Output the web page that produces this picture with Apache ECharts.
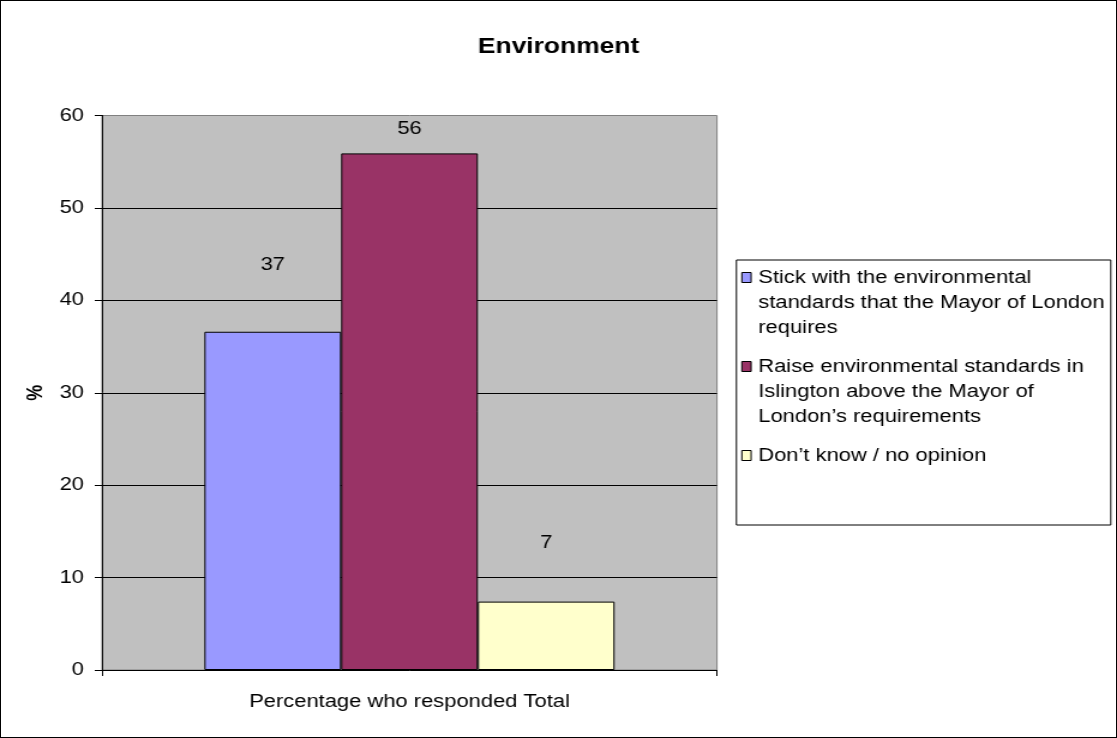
<!DOCTYPE html>
<html>
<head>
<meta charset="utf-8">
<title>Environment</title>
<script src="https://cdn.jsdelivr.net/npm/echarts@6/dist/echarts.min.js"></script>
<style>
  html, body { margin: 0; padding: 0; background: #fff; overflow: hidden; }
  #frame { position: relative; width: 1117px; height: 738px; overflow: hidden; }
  /* the chart is laid out on a narrower canvas and widened, giving the broad lettering of the sheet export */
  #chart { position: absolute; left: 0; top: 0; width: 931px; height: 738px;
           transform-origin: 0 0; transform: scaleX(1.19979); }
  #border { position: absolute; left: 0; top: 0; width: 1117px; height: 738px;
            box-sizing: border-box; border: 1px solid #000; pointer-events: none; }
</style>
</head>
<body>
<div id="frame"><div id="chart"></div><div id="border"></div></div>
<script>
// ---- data ----
const chartTitle = 'Environment';
const categories = ['Percentage who responded Total'];
const seriesNames = [
  'Stick with the environmental standards that the Mayor of London requires',
  'Raise environmental standards in Islington above the Mayor of London’s requirements',
  'Don’t know / no opinion'
];
const seriesValues = [36.6, 55.9, 7.4];
const legendLines = [
  ['Stick with the environmental', 'standards that the Mayor of London', 'requires'],
  ['Raise environmental standards in', 'Islington above the Mayor of', 'London’s requirements'],
  ['Don’t know / no opinion']
];
const yAxisName = '%';
const yMin = 0, yMax = 60, yStep = 10;

// ---- styling ----
const colors = ['#9999FF', '#993366', '#FFFFCC'];
const labelLift = [58, 15, 50];
const FONT = '"Liberation Sans", Arial, sans-serif';

const chart = echarts.init(document.getElementById('chart'), null, { renderer: 'canvas' });

// legend drawn as a framed key box, icons aligned with the first text line
const legendBox = { x: 613.8, y: 260, w: 312, h: 265 };
const lineH = 25, itemGap = 14;
const legendChildren = [{
  type: 'rect',
  shape: { x: legendBox.x, y: legendBox.y, width: legendBox.w, height: legendBox.h },
  style: { fill: '#fff', stroke: '#000', lineWidth: 1 }
}];
let textTop = 265.5;
legendLines.forEach((lines, i) => {
  legendChildren.push({
    type: 'rect',
    shape: { x: 618.3, y: textTop + 7, width: 7.75, height: 10 },
    style: { fill: colors[i], stroke: '#000', lineWidth: 1 }
  });
  legendChildren.push({
    type: 'text',
    x: 632, y: textTop,
    style: {
      text: lines.join('\n'),
      fontFamily: FONT, fontSize: 18.3, lineHeight: lineH,
      fill: '#000', verticalAlign: 'top', align: 'left'
    }
  });
  textTop += lines.length * lineH + itemGap;
});

const option = {
  animation: false,
  backgroundColor: '#fff',
  title: {
    text: chartTitle,
    left: 'center',
    top: 31,
    textStyle: { fontFamily: FONT, fontSize: 22, fontWeight: 'bold', color: '#000' }
  },
  grid: {
    left: 85, right: 333.4, top: 115.5, bottom: 68,
    show: true, backgroundColor: '#C0C0C0', borderColor: '#808080', borderWidth: 1,
    containLabel: false
  },
  xAxis: {
    type: 'category',
    data: categories,
    boundaryGap: true,
    axisLine: { show: true, lineStyle: { color: '#000', width: 1 } },
    axisTick: { show: true, length: 6, lineStyle: { color: '#000' } },
    axisLabel: { margin: 23, color: '#000', fontFamily: FONT, fontSize: 18.3 },
    splitLine: { show: false }
  },
  yAxis: {
    type: 'value',
    min: yMin, max: yMax, interval: yStep,
    name: yAxisName,
    nameLocation: 'middle',
    nameGap: 42,
    nameTextStyle: { fontFamily: FONT, fontSize: 18, fontWeight: 'bold', color: '#000' },
    axisLine: { show: true, lineStyle: { color: '#000', width: 1 } },
    axisTick: { show: true, length: 6, lineStyle: { color: '#000' } },
    axisLabel: { margin: 15, color: '#000', fontFamily: FONT, fontSize: 18.3 },
    splitLine: { show: true, showMinLine: false, showMaxLine: false, lineStyle: { color: '#000', width: 1 } }
  },
  series: seriesNames.map((name, i) => ({
    name: name,
    type: 'bar',
    data: [seriesValues[i]],
    barGap: '0%',
    barCategoryGap: '33.3%',
    itemStyle: { color: colors[i], borderColor: '#000', borderWidth: 1 },
    label: {
      show: true,
      position: 'top',
      distance: labelLift[i],
      formatter: (p) => String(Math.round(p.value)),
      color: '#000', fontFamily: FONT, fontSize: 18.3
    }
  })),
  graphic: [{ type: 'group', children: legendChildren }]
};

chart.setOption(option);
</script>
</body>
</html>
